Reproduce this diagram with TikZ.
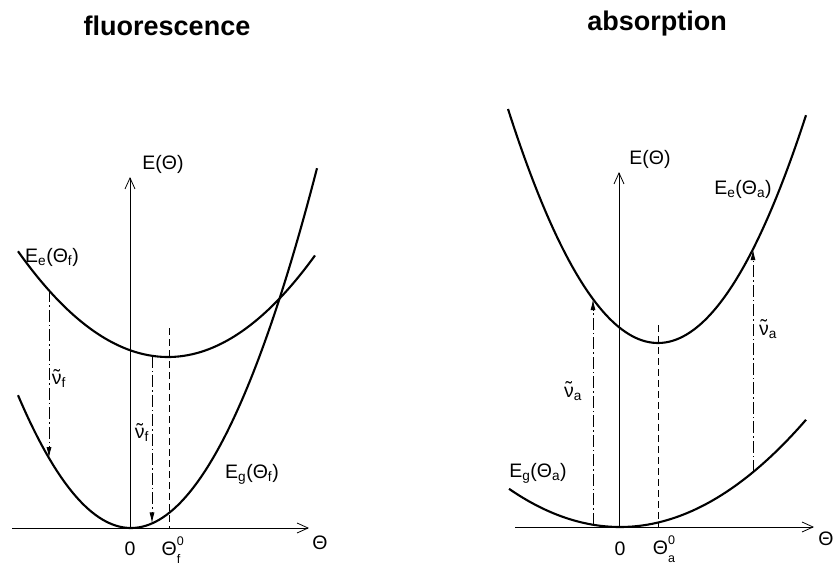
\documentclass[tikz,border=0pt]{standalone}
\usepackage{fontspec}
\setmainfont{Liberation Sans}
\usetikzlibrary{arrows.meta}
\newcommand\nutil{\ooalign{ν\cr\hidewidth\raisebox{0.08em}{\char"02DC}\hidewidth\cr}}
\newcommand\thsubsup[2]{Θ\makebox[0pt][l]{\raisebox{0.55em}{\fontsize{12.5}{13}\selectfont #2}}\raisebox{-0.4em}{\fontsize{12.5}{13}\selectfont #1}}
\begin{document}
\begin{tikzpicture}[x=1pt,y=-1pt,
 curve/.style={line width=2.1pt},
 axis/.style={line width=0.8pt,-{Straight Barb[length=11pt,width=10pt]}},
 trans/.style={line width=0.9pt,dash pattern=on 12pt off 3pt on 1.5pt off 3pt,-{Latex[length=11pt,width=5pt]}},
 guide/.style={line width=0.8pt,dash pattern=on 7pt off 4pt},
 lbl/.style={font=\fontsize{19.5}{22}\selectfont, inner sep=0pt},
 ttl/.style={font=\fontsize{27}{30}\selectfont\bfseries, inner sep=0pt, anchor=base}]
\useasboundingbox (0,0) rectangle (833,565);

% titles
\node[ttl] (tf) at (167,35) {fluorescence};
\node[ttl] (ta) at (657,30) {absorption};

% ---------- left panel: fluorescence ----------
\coordinate (LxS) at (12,528);
\coordinate (LxE) at (309,528);
\coordinate (LyS) at (130,528);
\coordinate (LyE) at (130,177);
\draw[axis] (LxS) -- (LxE);
\draw[axis] (LyS) -- (LyE);
\coordinate (LgS) at (169,328);
\coordinate (LgE) at (169,528);
\draw[guide] (LgS) -- (LgE);
\draw[curve] plot[domain=18:317,samples=90,smooth] (\x,{528-1.04*((\x-131)/10)^2});
\draw[curve] plot[domain=18:315,samples=90,smooth] (\x,{357-0.47*((\x-168)/10)^2});
\coordinate (La1) at (49,290.4);
\coordinate (La2) at (49,458.1);
\coordinate (Lb1) at (152,355.8);
\coordinate (Lb2) at (152,523.4);
\draw[trans] (La1) -- (La2);
\draw[trans] (Lb1) -- (Lb2);

\node[lbl] (LE) at (163,164) {E(Θ)};
\node[lbl] (LT) at (320,543) {Θ};
\node[lbl] (L0) at (130,549) {0};
\node[lbl] (LT0) at (171,550) {\thsubsup{f}{0}};
\node[lbl] (LEe) at (52,257) {E\textsubscript{e}(Θ\textsubscript{f})};
\node[lbl] (LEg) at (252,474) {E\textsubscript{g}(Θ\textsubscript{f})};
\node[lbl] (Lnu1) at (59,381) {\nutil\textsubscript{f}};
\node[lbl] (Lnu2) at (142,435) {\nutil\textsubscript{f}};

% ---------- right panel: absorption ----------
\coordinate (RxS) at (515,527);
\coordinate (RxE) at (814,527);
\coordinate (RyS) at (619,527);
\coordinate (RyE) at (619,172);
\draw[axis] (RxS) -- (RxE);
\draw[axis] (RyS) -- (RyE);
\coordinate (RgS) at (658,325);
\coordinate (RgE) at (658,527);
\draw[guide] (RgS) -- (RgE);
\draw[curve] plot[domain=509:806,samples=90,smooth] (\x,{527-0.31*((\x-620)/10)^2});
\draw[curve] plot[domain=508:806,samples=90,smooth] (\x,{343-1.04*((\x-658)/10)^2});
\coordinate (Ra1) at (593,524.7);
\coordinate (Ra2) at (593,299.1);
\coordinate (Rb1) at (753,472.2);
\coordinate (Rb2) at (753,249.1);
\draw[trans] (Ra1) -- (Ra2);
\draw[trans] (Rb1) -- (Rb2);

\node[lbl] (RE) at (650,159) {E(Θ)};
\node[lbl] (RT) at (826,539) {Θ};
\node[lbl] (R0) at (620,549) {0};
\node[lbl] (RT0) at (664,549) {\thsubsup{a}{0}};
\node[lbl] (REe) at (743,189) {E\textsubscript{e}(Θ\textsubscript{a})};
\node[lbl] (REg) at (538,473) {E\textsubscript{g}(Θ\textsubscript{a})};
\node[lbl] (Rnu1) at (573,394) {\nutil\textsubscript{a}};
\node[lbl] (Rnu2) at (768,332) {\nutil\textsubscript{a}};
\end{tikzpicture}
\end{document}
